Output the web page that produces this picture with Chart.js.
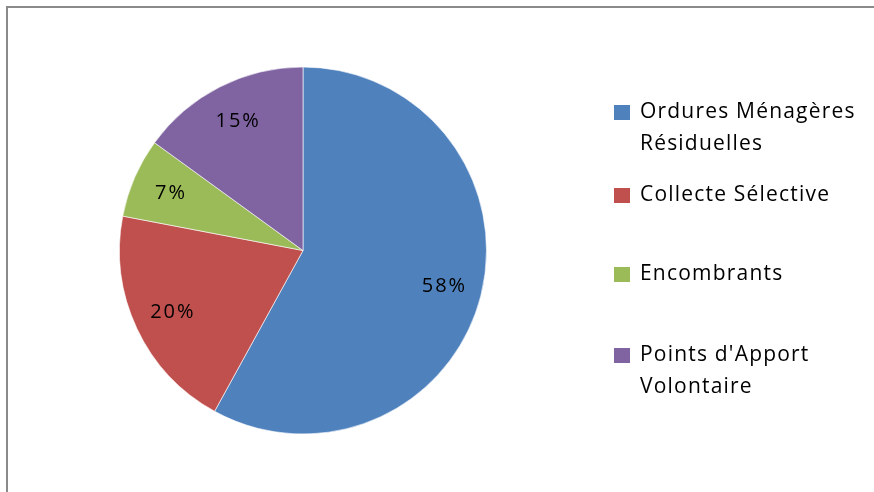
<!DOCTYPE html>
<html>
<head>
<meta charset="utf-8">
<script src="https://cdn.jsdelivr.net/npm/chart.js@4/dist/chart.umd.min.js"></script>
<style>
  html, body { margin: 0; padding: 0; background: #fff; }
  #wrap { width: 874px; height: 492px; position: relative; }
</style>
</head>
<body>
<div id="wrap"><canvas id="myChart" width="874" height="492"></canvas></div>
<script>
const categories = ['Ordures Ménagères Résiduelles', 'Collecte Sélective', 'Encombrants', "Points d'Apport Volontaire"];
const legendLines = [['Ordures Ménagères', 'Résiduelles'], ['Collecte Sélective'], ['Encombrants'], ["Points d'Apport", 'Volontaire']];
const shares = [58, 20, 7, 15];
const colors = ['#4F81BD', '#C0504D', '#9BBB59', '#8064A2'];

const FONT = '"Open Sans", Lato, sans-serif';

// frame, percentage labels and legend
const decor = {
  id: 'decor',
  beforeDraw(chart) {
    const c = chart.ctx;
    c.save();
    c.strokeStyle = '#8a8a8a';
    c.lineWidth = 2;
    c.strokeRect(7, 7, 900, 520);
    c.restore();
  },
  afterDraw(chart) {
    const c = chart.ctx;
    const meta = chart.getDatasetMeta(0);
    c.save();
    c.fillStyle = '#000';
    c.font = '20px ' + FONT;
    c.letterSpacing = '2px';
    c.textAlign = 'center';
    c.textBaseline = 'middle';
    meta.data.forEach(function(arc, i) {
      const p = arc.getProps(['x', 'y', 'startAngle', 'endAngle', 'outerRadius'], true);
      const mid = (p.startAngle + p.endAngle) / 2;
      const r = p.outerRadius * 0.79;
      c.fillText(shares[i] + '%', p.x + Math.cos(mid) * r + 1, p.y + Math.sin(mid) * r);
    });

    // legend
    const rows = [112, 195, 274, 355];
    c.font = '21px ' + FONT;
    c.letterSpacing = '1.2px';
    c.textAlign = 'left';
    legendLines.forEach(function(lines, i) {
      c.fillStyle = colors[i];
      c.fillRect(614, rows[i] - 7, 16, 15);
      c.fillStyle = '#000';
      lines.forEach(function(t, j) {
        c.fillText(t, 640, rows[i] + j * 32);
      });
    });
    c.restore();
  }
};

const ctx = document.getElementById('myChart');
new Chart(ctx, {
  type: 'pie',
  data: {
    labels: categories,
    datasets: [{
      data: shares,
      backgroundColor: colors,
      borderColor: 'rgba(255,255,255,0.6)',
      borderWidth: 1
    }]
  },
  options: {
    responsive: false,
    animation: false,
    layout: {
      padding: { left: 119, right: 387, top: 66, bottom: 57 }
    },
    plugins: {
      legend: { display: false },
      tooltip: { enabled: false }
    }
  },
  plugins: [decor]
});
</script>
</body>
</html>
